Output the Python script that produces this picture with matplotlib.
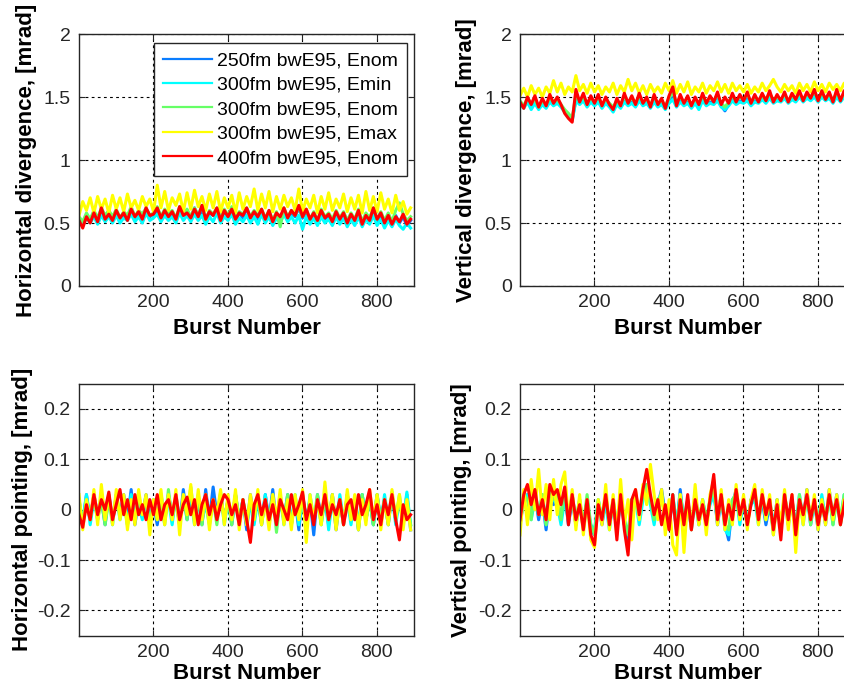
import numpy as np
import matplotlib
matplotlib.use("Agg")
from matplotlib import pyplot as plt

#%%
# burst number grid (one sample every 10 bursts)
burst = np.arange(1, 901, 10)

labels = ['250fm bwE95, Enom', '300fm bwE95, Emin', '300fm bwE95, Enom',
          '300fm bwE95, Emax', '400fm bwE95, Enom']
colors = ['#0a7dff', '#00ffff', '#66ff66', '#ffff00', '#ff0000']

# horizontal divergence [mrad]
hdiv_250_nom = [0.53,0.50,0.56,0.52,0.58,0.53,0.57,0.55,0.59,0.54,
                0.58,0.52,0.57,0.55,0.60,0.53,0.58,0.54,0.61,0.55,
                0.57,0.59,0.54,0.60,0.55,0.58,0.53,0.61,0.56,0.59,
                0.54,0.62,0.55,0.60,0.52,0.58,0.56,0.61,0.53,0.59,
                0.55,0.60,0.52,0.58,0.54,0.61,0.55,0.59,0.53,0.60,
                0.52,0.58,0.50,0.57,0.53,0.60,0.54,0.58,0.55,0.62,
                0.54,0.59,0.52,0.57,0.51,0.58,0.53,0.56,0.50,0.58,
                0.52,0.57,0.50,0.56,0.51,0.59,0.49,0.56,0.52,0.60,
                0.51,0.57,0.50,0.55,0.49,0.56,0.50,0.55,0.48,0.52]
hdiv_300_min = [0.51,0.48,0.54,0.50,0.55,0.49,0.56,0.51,0.55,0.50,
                0.56,0.50,0.54,0.52,0.57,0.51,0.55,0.50,0.58,0.52,
                0.54,0.57,0.51,0.56,0.52,0.55,0.50,0.58,0.52,0.56,
                0.51,0.57,0.52,0.56,0.49,0.55,0.51,0.58,0.50,0.55,
                0.52,0.57,0.49,0.54,0.51,0.56,0.50,0.55,0.49,0.57,
                0.50,0.55,0.48,0.54,0.50,0.57,0.51,0.55,0.50,0.56,
                0.45,0.55,0.49,0.54,0.48,0.55,0.50,0.53,0.48,0.55,
                0.49,0.54,0.47,0.53,0.48,0.55,0.47,0.53,0.49,0.56,
                0.48,0.53,0.46,0.52,0.47,0.53,0.48,0.45,0.50,0.46]
hdiv_300_nom = [0.55,0.51,0.58,0.53,0.60,0.54,0.62,0.56,0.60,0.55,
                0.61,0.54,0.59,0.56,0.63,0.55,0.60,0.57,0.62,0.56,
                0.58,0.63,0.55,0.61,0.57,0.60,0.54,0.63,0.57,0.61,
                0.55,0.62,0.56,0.64,0.53,0.60,0.57,0.62,0.54,0.61,
                0.56,0.63,0.54,0.59,0.57,0.62,0.55,0.60,0.56,0.61,
                0.54,0.60,0.52,0.59,0.47,0.62,0.55,0.60,0.56,0.63,
                0.55,0.61,0.53,0.59,0.52,0.61,0.55,0.58,0.53,0.60,
                0.54,0.59,0.52,0.58,0.53,0.61,0.51,0.58,0.54,0.62,
                0.53,0.59,0.52,0.58,0.51,0.60,0.66,0.57,0.52,0.55]
hdiv_300_max = [0.56,0.67,0.60,0.70,0.58,0.71,0.61,0.69,0.58,0.72,
                0.61,0.70,0.59,0.73,0.62,0.68,0.60,0.71,0.63,0.69,
                0.59,0.80,0.62,0.75,0.60,0.70,0.64,0.73,0.59,0.74,
                0.61,0.76,0.63,0.71,0.60,0.73,0.62,0.75,0.59,0.70,
                0.62,0.72,0.58,0.74,0.61,0.71,0.63,0.77,0.60,0.73,
                0.62,0.75,0.59,0.71,0.61,0.72,0.63,0.70,0.60,0.77,
                0.59,0.69,0.62,0.72,0.58,0.71,0.61,0.74,0.60,0.69,
                0.62,0.73,0.59,0.70,0.61,0.72,0.58,0.75,0.60,0.71,
                0.59,0.74,0.61,0.69,0.58,0.72,0.60,0.67,0.57,0.62]
hdiv_400_nom = [0.52,0.46,0.55,0.50,0.58,0.51,0.62,0.53,0.57,0.52,
                0.60,0.54,0.58,0.52,0.61,0.55,0.59,0.53,0.62,0.56,
                0.57,0.62,0.54,0.60,0.55,0.59,0.53,0.63,0.56,0.58,
                0.54,0.61,0.55,0.64,0.53,0.59,0.56,0.62,0.52,0.60,
                0.55,0.61,0.53,0.58,0.56,0.62,0.54,0.59,0.55,0.61,
                0.53,0.60,0.51,0.58,0.55,0.62,0.54,0.60,0.56,0.64,
                0.55,0.61,0.53,0.58,0.52,0.60,0.54,0.57,0.51,0.59,
                0.53,0.58,0.50,0.57,0.52,0.60,0.49,0.56,0.52,0.62,
                0.53,0.58,0.50,0.56,0.49,0.55,0.51,0.57,0.49,0.53]

# vertical divergence [mrad]
vdiv_250_nom = [1.45,1.42,1.47,1.43,1.46,1.41,1.45,1.42,1.47,1.44,
                1.46,1.43,1.39,1.36,1.32,1.48,1.45,1.48,1.43,1.47,
                1.44,1.47,1.42,1.46,1.43,1.40,1.45,1.42,1.47,1.44,
                1.46,1.43,1.48,1.44,1.46,1.42,1.47,1.43,1.45,1.41,
                1.46,1.50,1.43,1.47,1.44,1.46,1.42,1.46,1.43,1.48,
                1.44,1.46,1.45,1.48,1.43,1.39,1.44,1.48,1.45,1.47,
                1.46,1.49,1.45,1.48,1.46,1.49,1.46,1.50,1.46,1.48,
                1.47,1.50,1.46,1.49,1.47,1.51,1.47,1.50,1.48,1.51,
                1.47,1.51,1.48,1.50,1.46,1.51,1.47,1.51,1.48,1.52]
vdiv_300_min = [1.44,1.41,1.46,1.40,1.45,1.40,1.44,1.41,1.46,1.43,
                1.45,1.42,1.38,1.35,1.31,1.47,1.44,1.47,1.42,1.46,
                1.43,1.46,1.41,1.45,1.42,1.38,1.44,1.41,1.46,1.43,
                1.45,1.42,1.47,1.43,1.45,1.41,1.46,1.42,1.44,1.40,
                1.45,1.48,1.42,1.46,1.43,1.45,1.41,1.45,1.40,1.47,
                1.43,1.45,1.44,1.47,1.42,1.40,1.43,1.47,1.44,1.46,
                1.45,1.47,1.43,1.46,1.45,1.48,1.45,1.49,1.45,1.47,
                1.46,1.49,1.45,1.48,1.46,1.50,1.46,1.49,1.47,1.50,
                1.46,1.50,1.47,1.49,1.45,1.50,1.46,1.50,1.47,1.51]
vdiv_300_nom = [1.47,1.43,1.49,1.45,1.48,1.42,1.47,1.44,1.49,1.46,
                1.48,1.44,1.40,1.37,1.33,1.52,1.47,1.50,1.45,1.49,
                1.46,1.50,1.44,1.48,1.45,1.42,1.47,1.44,1.50,1.46,
                1.49,1.45,1.51,1.46,1.48,1.44,1.50,1.45,1.47,1.43,
                1.49,1.54,1.45,1.50,1.46,1.49,1.44,1.48,1.45,1.51,
                1.46,1.49,1.47,1.52,1.45,1.42,1.46,1.51,1.47,1.50,
                1.48,1.52,1.46,1.50,1.47,1.51,1.48,1.53,1.47,1.50,
                1.48,1.52,1.47,1.51,1.49,1.53,1.48,1.52,1.50,1.54,
                1.48,1.53,1.49,1.52,1.47,1.54,1.48,1.53,1.49,1.55]
vdiv_300_max = [1.51,1.57,1.50,1.59,1.52,1.57,1.50,1.58,1.53,1.63,
                1.54,1.61,1.52,1.58,1.54,1.67,1.55,1.60,1.53,1.61,
                1.54,1.59,1.52,1.58,1.54,1.61,1.52,1.59,1.54,1.64,
                1.55,1.61,1.53,1.59,1.52,1.60,1.54,1.58,1.53,1.61,
                1.55,1.63,1.53,1.60,1.54,1.62,1.52,1.58,1.54,1.61,
                1.53,1.59,1.55,1.62,1.54,1.60,1.53,1.61,1.55,1.59,
                1.54,1.60,1.53,1.58,1.54,1.61,1.55,1.59,1.64,1.58,
                1.54,1.60,1.55,1.59,1.53,1.61,1.55,1.60,1.54,1.62,
                1.55,1.60,1.54,1.61,1.56,1.60,1.55,1.61,1.54,1.59]
vdiv_400_nom = [1.46,1.41,1.50,1.44,1.51,1.42,1.49,1.43,1.52,1.45,
                1.50,1.44,1.37,1.33,1.30,1.56,1.46,1.53,1.44,1.51,
                1.45,1.52,1.43,1.50,1.44,1.40,1.49,1.43,1.53,1.45,
                1.51,1.44,1.53,1.45,1.50,1.42,1.52,1.44,1.49,1.41,
                1.51,1.58,1.43,1.52,1.45,1.51,1.43,1.50,1.44,1.53,
                1.45,1.51,1.46,1.54,1.44,1.50,1.45,1.53,1.46,1.52,
                1.47,1.54,1.45,1.52,1.46,1.53,1.47,1.55,1.46,1.52,
                1.47,1.54,1.46,1.53,1.48,1.55,1.47,1.54,1.49,1.56,
                1.47,1.55,1.48,1.54,1.46,1.56,1.47,1.55,1.48,1.56]

# horizontal pointing [mrad]
hpnt_250_nom = [0.02,-0.03,0.03,-0.02,0.03,-0.01,0.02,-0.03,0.03,-0.02,
                0.02,-0.01,0.03,-0.02,0.04,-0.03,0.02,-0.01,0.03,-0.02,
                0.01,-0.03,0.02,-0.02,0.03,-0.01,0.02,-0.03,0.04,-0.02,
                0.03,-0.02,0.02,-0.03,0.04,-0.02,0.045,-0.01,0.03,-0.02,
                0.02,-0.03,0.03,-0.02,0.02,-0.04,0.03,-0.02,0.02,-0.03,
                0.03,-0.02,0.04,-0.03,0.02,-0.02,0.03,-0.03,0.02,-0.04,
                0.03,-0.02,0.02,-0.05,0.03,-0.02,0.02,-0.03,0.03,-0.04,
                0.02,-0.03,0.03,-0.02,0.02,-0.04,0.03,-0.02,0.02,-0.03,
                0.03,-0.02,0.02,-0.03,0.03,-0.02,0.02,-0.03,0.03,-0.04]
hpnt_300_min = [0.01,-0.02,0.03,-0.03,0.02,-0.02,0.03,-0.01,0.02,-0.03,
                0.03,-0.02,0.02,-0.03,0.03,-0.02,0.01,-0.02,0.02,-0.03,
                0.02,-0.02,0.03,-0.01,0.02,-0.03,0.03,-0.02,0.02,-0.01,
                0.02,-0.03,0.03,-0.02,0.01,-0.03,0.02,-0.02,0.035,-0.03,
                0.02,-0.02,0.03,-0.03,0.02,-0.02,0.01,-0.03,0.02,-0.02,
                0.03,-0.03,0.02,-0.02,0.03,-0.03,0.02,-0.02,0.03,-0.03,
                0.02,-0.04,0.03,-0.02,0.02,-0.03,0.03,-0.04,0.02,-0.03,
                0.03,-0.02,0.02,-0.03,0.02,-0.03,0.03,-0.02,0.02,-0.03,
                0.02,-0.03,0.03,-0.02,0.03,-0.03,0.02,-0.02,0.035,-0.03]
hpnt_300_nom = [0.02,-0.03,0.02,-0.02,0.03,-0.02,0.02,-0.03,0.02,-0.02,
                0.03,-0.01,0.02,-0.03,0.02,-0.02,0.03,-0.01,0.02,-0.03,
                0.02,-0.02,0.01,-0.03,0.04,-0.02,0.02,-0.03,0.03,-0.02,
                0.045,-0.02,0.02,-0.03,0.03,-0.02,0.02,-0.03,0.03,-0.02,
                0.02,-0.03,0.03,-0.02,0.02,-0.03,0.02,-0.02,0.03,-0.03,
                0.02,-0.02,0.03,-0.045,0.02,-0.02,0.03,-0.03,0.02,-0.02,
                0.03,-0.03,0.02,-0.02,0.03,-0.03,0.02,-0.02,0.03,-0.03,
                0.02,-0.03,0.03,-0.02,0.02,-0.04,0.03,-0.02,0.02,-0.03,
                0.03,-0.02,0.02,-0.03,0.035,-0.02,0.03,-0.03,0.02,-0.03]
hpnt_300_max = [0.03,-0.04,0.02,-0.02,0.04,-0.03,0.05,-0.02,0.03,-0.03,
                0.04,-0.02,0.03,-0.04,0.02,-0.03,0.04,-0.01,0.03,-0.05,
                0.02,-0.02,0.04,-0.03,0.03,-0.02,0.04,-0.05,0.03,-0.01,
                0.05,-0.03,0.04,-0.02,0.03,-0.04,0.02,-0.01,0.04,-0.03,
                0.03,-0.02,0.04,-0.04,0.02,-0.03,0.03,-0.02,0.04,-0.03,
                0.02,-0.04,0.03,-0.02,0.04,-0.03,0.02,-0.04,0.03,-0.02,
                0.04,-0.065,0.03,-0.02,0.02,-0.03,0.055,-0.02,0.03,-0.04,
                0.02,-0.03,0.04,-0.02,0.03,-0.04,0.02,-0.03,0.04,-0.02,
                0.03,-0.04,0.02,-0.03,0.04,-0.02,0.03,-0.04,0.02,-0.04]
hpnt_400_nom = [-0.01,-0.035,0.01,-0.02,0.03,-0.01,0.02,0.00,0.035,-0.02,
                0.01,0.04,-0.01,0.02,-0.02,0.03,-0.01,0.01,-0.02,0.02,
                -0.01,0.03,-0.02,0.01,0.02,-0.01,0.03,-0.02,0.01,0.025,
                -0.01,0.02,-0.03,0.01,0.03,-0.01,0.02,-0.02,0.01,0.03,
                0.02,-0.01,0.01,-0.03,0.02,-0.02,-0.065,0.01,0.03,-0.01,
                0.02,-0.02,0.01,-0.03,0.02,0.00,-0.02,0.03,-0.01,0.01,
                0.035,-0.02,0.01,-0.03,0.02,-0.01,0.03,-0.02,0.01,-0.01,
                0.02,-0.03,0.01,0.02,-0.02,0.03,-0.01,0.01,0.04,-0.02,
                0.01,-0.03,0.02,-0.01,0.03,-0.02,-0.06,0.01,-0.02,-0.01]

# vertical pointing [mrad]
vpnt_250_nom = [-0.03,0.02,0.03,-0.01,0.03,-0.02,0.02,-0.04,0.03,0.01,
                0.02,-0.02,0.03,-0.03,0.02,-0.03,0.01,-0.03,0.02,-0.04,
                -0.05,0.01,-0.03,0.02,-0.03,0.01,-0.04,0.02,-0.03,-0.06,
                0.01,0.03,-0.02,0.03,0.05,0.02,-0.02,0.01,0.04,-0.01,
                -0.03,0.02,-0.04,0.04,-0.03,0.02,-0.04,0.03,-0.02,0.01,
                -0.03,0.02,0.04,-0.03,0.02,-0.03,-0.06,0.01,0.04,-0.02,
                0.01,-0.03,0.02,0.03,-0.02,0.02,-0.03,0.01,-0.04,0.02,
                -0.04,0.02,-0.03,0.02,-0.04,0.02,-0.02,0.04,-0.03,0.02,
                -0.04,0.02,-0.03,0.04,-0.02,0.03,-0.03,0.02,0.03,0.01]
vpnt_300_min = [-0.02,0.01,0.03,-0.02,0.02,-0.01,0.03,-0.03,0.02,0.02,
                0.01,-0.03,0.02,-0.02,0.03,-0.02,0.02,-0.04,0.01,-0.03,
                -0.04,0.02,-0.02,0.01,-0.04,0.02,-0.03,0.01,-0.02,-0.05,
                0.02,0.02,-0.03,0.02,0.04,0.01,-0.03,0.02,0.03,-0.02,
                -0.02,0.03,-0.03,0.03,-0.02,0.01,-0.03,0.02,-0.03,0.02,
                -0.02,0.01,0.03,-0.02,0.03,-0.04,-0.05,0.02,0.03,-0.03,
                0.02,-0.02,0.01,0.02,-0.03,0.03,-0.02,0.02,-0.03,0.01,
                -0.03,0.03,-0.02,0.01,-0.03,0.03,-0.03,0.03,-0.02,0.01,
                -0.03,0.03,-0.02,0.03,-0.03,0.02,-0.02,0.03,0.02,0.02]
vpnt_300_nom = [-0.02,0.03,0.02,-0.02,0.04,-0.01,0.03,-0.03,0.04,0.02,
                0.03,-0.02,0.04,-0.02,0.03,-0.03,0.02,-0.03,0.03,-0.03,
                -0.05,0.02,-0.02,0.03,-0.03,0.02,-0.04,0.03,-0.02,-0.05,
                0.02,0.03,-0.01,0.03,0.05,0.02,-0.02,0.02,0.03,-0.02,
                -0.03,0.03,-0.04,0.03,-0.02,0.02,-0.03,0.02,-0.03,0.02,
                -0.02,0.02,0.04,-0.02,0.03,-0.03,-0.04,0.02,0.03,-0.02,
                0.02,-0.03,0.02,0.03,-0.02,0.03,-0.02,0.02,-0.05,0.02,
                -0.04,0.03,-0.02,0.02,-0.04,0.03,-0.02,0.03,-0.03,0.02,
                -0.03,0.02,-0.02,0.03,-0.03,0.02,-0.02,0.03,0.03,0.02]
vpnt_300_max = [-0.05,0.04,-0.03,0.06,0.00,0.08,-0.01,0.05,-0.02,0.06,
                -0.01,0.05,0.075,-0.02,0.04,-0.04,0.03,-0.05,0.02,-0.06,
                -0.075,0.02,-0.03,0.05,-0.04,0.03,-0.05,0.06,-0.03,0.02,
                -0.06,0.04,-0.02,0.05,0.01,0.09,0.03,-0.02,0.04,-0.05,
                0.02,-0.07,-0.09,0.03,-0.085,0.02,-0.04,0.05,-0.03,0.02,
                -0.05,0.03,0.06,-0.03,0.04,-0.04,0.02,-0.03,0.05,-0.02,
                0.03,-0.04,0.02,0.05,-0.03,0.04,-0.02,0.03,-0.05,0.02,
                -0.03,0.04,-0.04,0.03,-0.085,0.02,-0.03,0.04,-0.02,0.03,
                -0.04,0.02,-0.03,0.04,-0.02,0.03,-0.03,0.02,-0.03,0.02]
vpnt_400_nom = [-0.02,0.03,0.05,0.01,0.04,-0.01,0.02,-0.02,0.05,0.03,
                0.04,0.01,0.045,-0.03,0.03,-0.02,0.01,-0.04,0.02,-0.05,
                -0.07,0.01,-0.02,0.03,-0.03,0.02,-0.06,0.03,-0.04,-0.09,
                0.02,0.04,-0.01,0.04,0.08,0.03,-0.01,0.02,-0.03,0.01,
                -0.04,0.03,-0.05,0.02,-0.03,0.03,-0.04,0.02,-0.02,0.01,
                -0.03,0.02,0.07,-0.02,0.03,-0.03,0.01,-0.02,0.04,-0.01,
                0.02,-0.03,0.01,0.04,-0.02,0.03,-0.01,0.02,-0.04,0.01,
                -0.06,0.03,-0.02,0.03,-0.05,0.02,-0.01,0.03,-0.02,0.02,
                -0.03,0.01,-0.02,0.03,-0.01,0.02,-0.03,0.01,0.05,0.02]

#%%
plt.rcParams['font.family'] = ['Liberation Sans', 'DejaVu Sans']

fig = plt.figure(figsize=(8.45, 6.87), dpi=100)

panels = [
    ([0.0935, 0.5837, 0.3964, 0.3668], [hdiv_250_nom, hdiv_300_min, hdiv_300_nom, hdiv_300_max, hdiv_400_nom],
     'Horizontal divergence, [mrad]', (0, 2), [0, 0.5, 1, 1.5, 2], ['0', '0.5', '1', '1.5', '2'], -0.125, -0.127),
    ([0.6154, 0.5837, 0.3964, 0.3668], [vdiv_250_nom, vdiv_300_min, vdiv_300_nom, vdiv_300_max, vdiv_400_nom],
     'Vertical divergence, [mrad]', (0, 2), [0, 0.5, 1, 1.5, 2], ['0', '0.5', '1', '1.5', '2'], -0.128, -0.127),
    ([0.0935, 0.0747, 0.3964, 0.3668], [hpnt_250_nom, hpnt_300_min, hpnt_300_nom, hpnt_300_max, hpnt_400_nom],
     'Horizontal pointing, [mrad]', (-0.25, 0.25), [-0.2, -0.1, 0, 0.1, 0.2], ['-0.2', '-0.1', '0', '0.1', '0.2'], -0.137, -0.108),
    ([0.6154, 0.0747, 0.3964, 0.3668], [vpnt_250_nom, vpnt_300_min, vpnt_300_nom, vpnt_300_max, vpnt_400_nom],
     'Vertical pointing, [mrad]', (-0.25, 0.25), [-0.2, -0.1, 0, 0.1, 0.2], ['-0.2', '-0.1', '0', '0.1', '0.2'], -0.143, -0.108),
]

axes = []
for rect, series, ylab, ylim, yt, ytl, ylx, xly in panels:
    ax = fig.add_axes(rect)
    for s, c, lab in zip(series, colors, labels):
        ax.plot(burst, s, color=c, lw=2.2, label=lab)
    ax.set_xlim(1, 900)
    ax.set_ylim(*ylim)
    ax.set_xticks([200, 400, 600, 800])
    ax.set_yticks(yt)
    ax.set_yticklabels(ytl)
    ax.grid(True, color='k', linestyle=(0, (2.5, 3)), linewidth=0.8)
    ax.tick_params(direction='in', length=4, top=True, right=True, labelsize=14,
                   colors='#262626', pad=6)
    for sp in ax.spines.values():
        sp.set_color('#262626')
        sp.set_linewidth(1.0)
    ax.set_ylabel(ylab, fontsize=16, fontweight='bold')
    ax.set_xlabel('Burst Number', fontsize=16, fontweight='bold')
    ax.yaxis.set_label_coords(ylx, 0.5)
    ax.xaxis.set_label_coords(0.5, xly)
    axes.append(ax)

leg = axes[0].legend(loc='upper right', bbox_to_anchor=(0.979, 0.964), borderaxespad=0,
                     fontsize=14, handlelength=2.5, handletextpad=0.28, labelspacing=0.35,
                     fancybox=False, framealpha=1, edgecolor='#262626', borderpad=0.45)
leg.get_frame().set_linewidth(1.0)
for line in leg.get_lines():
    line.set_linewidth(1.6)

fig.savefig('out.png', dpi=100)
